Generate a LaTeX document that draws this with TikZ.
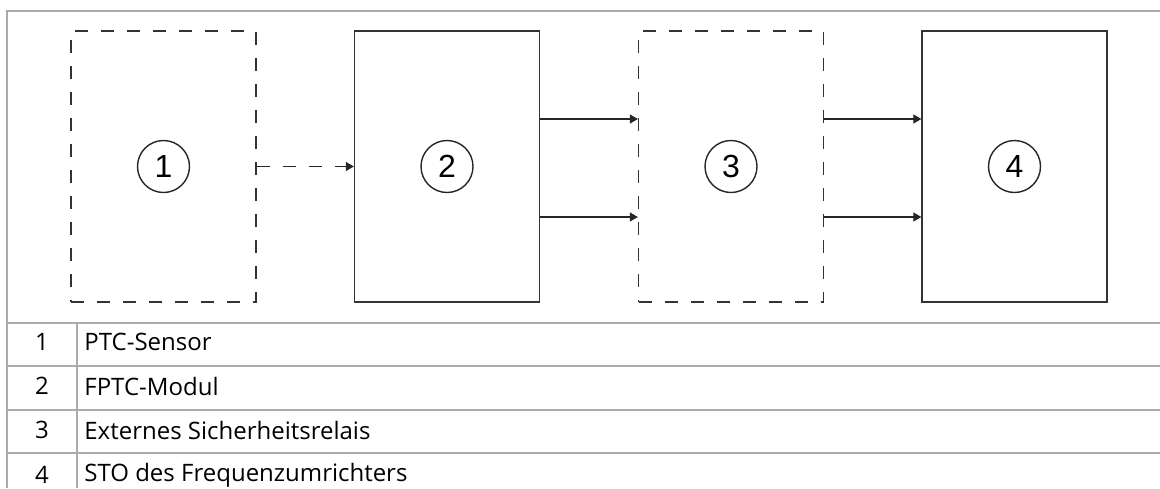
\documentclass[tikz,border=0pt]{standalone}
\usepackage{fontspec}
\setmainfont{Open Sans}
\newfontfamily\digitfont{Liberation Sans}
\usetikzlibrary{arrows.meta}
\tikzset{
	block/.style={draw=black!80, line width=.65pt, minimum width=92.5pt, minimum height=135.5pt, inner sep=0pt},
	dashblock/.style={block, dash pattern=on 6.5pt off 6.5pt},
	num/.style={circle, draw=black!85, line width=.7pt, minimum size=26pt, inner sep=0pt, font=\digitfont\fontsize{16}{16}\selectfont},
	flow/.style={draw=black!85, line width=.55pt, -{Triangle[length=4pt, width=4.5pt]}},
	rule/.style={draw=black!33, line width=1pt},
	cell/.style={inner sep=0pt, font=\fontsize{12}{14}\selectfont},
}

\begin{document}
\begin{tikzpicture}[x=.5pt, y=-.5pt]
		\useasboundingbox (0, 0) rectangle (1160, 488);
		% frame and table
		\draw[rule](1160, 11)--(7, 11)--(7, 488);
		\foreach \y in {322.5, 366, 409.5, 453}
			\draw[rule](7, \y)--(1160, \y);
		\draw[rule](77, 322.5)--(77, 488);
		% blocks
		\node[dashblock](b1) at (163.5, 166.5){};
		\node[block](b2) at (447, 166.5){};
		\node[dashblock](b3) at (731, 166.5){};
		\node[block](b4) at (1014.5, 166.5){};
		\foreach \i in {1, ..., 4}
			\node[num](c\i) at (b\i){\i};
		% connections
		\draw[flow, dash pattern=on 6.5pt off 6.5pt](b1)--(b2);
		\draw[flow]([yshift=23.75pt]b2.east)--([yshift=23.75pt]b3.west);
		\draw[flow]([yshift=-25.25pt]b2.east)--([yshift=-25.25pt]b3.west);
		\draw[flow]([yshift=23.75pt]b3.east)--([yshift=23.75pt]b4.west);
		\draw[flow]([yshift=-25.25pt]b3.east)--([yshift=-25.25pt]b4.west);
		% legend
		\node[cell](n1) at (42, 342){1};
		\node[cell, anchor=west](t1) at (84, 342){PTC-Sensor};
		\node[cell](n2) at (42, 386){2};
		\node[cell, anchor=west](t2) at (84, 386){FPTC-Modul};
		\node[cell](n3) at (42, 430){3};
		\node[cell, anchor=west](t3) at (84, 430){Externes Sicherheitsrelais};
		\node[cell](n4) at (42, 475){4};
		\node[cell, anchor=west](t4) at (84, 475){STO des Frequenzumrichters};
	\end{tikzpicture}
\end{document}
